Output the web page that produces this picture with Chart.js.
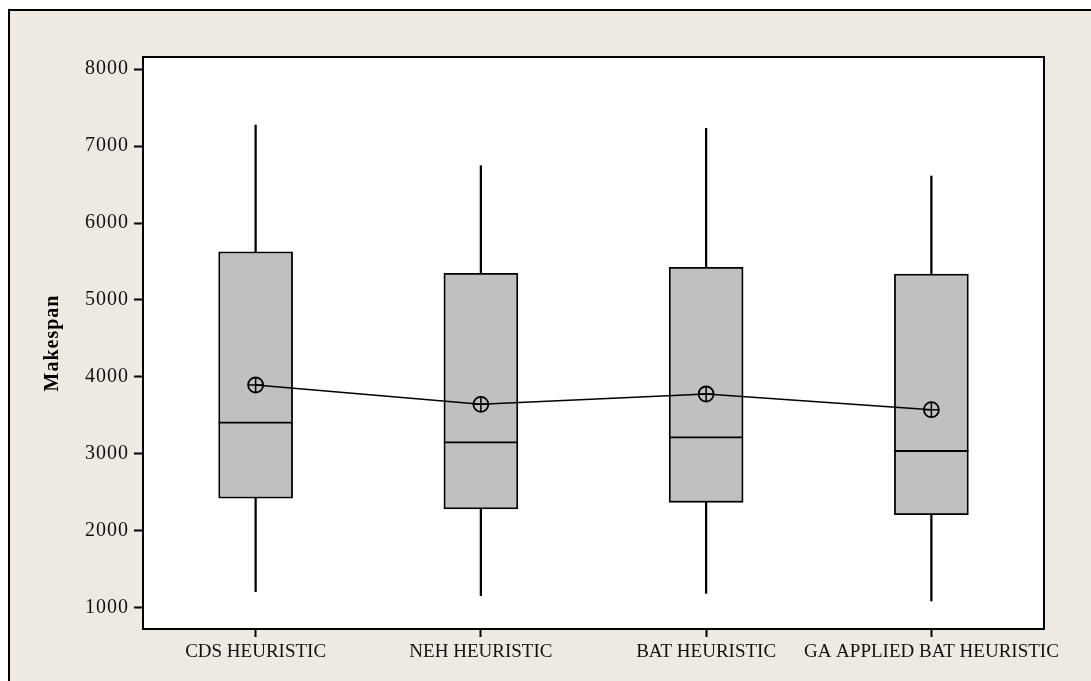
<!DOCTYPE html>
<html>
<head>
<meta charset="utf-8">
<script src="https://cdn.jsdelivr.net/npm/chart.js@4/dist/chart.umd.min.js"></script>
<style>
  html, body { margin: 0; padding: 0; background: #ffffff; overflow: hidden; }
  #frame { position: absolute; left: 8px; top: 9px; width: 1100px; height: 700px;
           background: #EEEAE1; border: 2px solid #000; box-sizing: border-box; }
  #c { position: absolute; left: 0; top: 0; }
</style>
</head>
<body>
<div id="frame"></div>
<canvas id="c" width="1091" height="681"></canvas>
<script>
// ---- data ----
const categories = ['CDS HEURISTIC', 'NEH HEURISTIC', 'BAT HEURISTIC', 'GA APPLIED BAT HEURISTIC'];
const whiskerLow  = [1212, 1160, 1190, 1091];
const q1Values    = [2425, 2286, 2372, 2212];
const medians     = [3407, 3152, 3217, 3039];
const q3Values    = [5627, 5346, 5424, 5338];
const whiskerHigh = [7273, 6744, 7230, 6610];
const means       = [3896, 3645, 3779, 3575];
const yTickValues = [1000, 2000, 3000, 4000, 5000, 6000, 7000, 8000];
const yAxisTitle  = 'Makespan';

Chart.defaults.font.family = "'Liberation Serif', 'Times New Roman', serif";
Chart.defaults.color = '#111';

const plotFrame = {
  id: 'plotFrame',
  beforeDraw(chart) {
    const { ctx, chartArea: a } = chart;
    ctx.save();
    ctx.fillStyle = '#ffffff';
    ctx.fillRect(a.left, a.top, a.right - a.left, a.bottom - a.top);
    ctx.restore();
  },
  afterDatasetsDraw(chart) {
    const { ctx, chartArea: a } = chart;
    ctx.save();
    ctx.strokeStyle = '#000';
    ctx.lineWidth = 2;
    ctx.strokeRect(a.left, a.top, a.right - a.left, a.bottom - a.top);
    ctx.restore();
  }
};

const chart = new Chart(document.getElementById('c'), {
  type: 'bar',
  data: {
    labels: categories,
    datasets: [
      {
        type: 'line', label: 'mean', data: means, order: 1,
        borderColor: '#000', borderWidth: 1.5, tension: 0,
        pointStyle: 'circle', pointRadius: 7.5, pointHoverRadius: 7.5,
        pointBackgroundColor: 'rgba(0,0,0,0)', pointBorderColor: '#000', pointBorderWidth: 1.8
      },
      {
        type: 'line', label: 'meanCross', data: means, order: 0, showLine: false,
        pointStyle: 'cross', pointRadius: 7.5, pointHoverRadius: 7.5,
        pointBorderColor: '#000', pointBorderWidth: 1.5, borderColor: '#000'
      },
      {
        type: 'line', label: 'median', data: medians, order: 2, showLine: false,
        pointStyle: 'line', pointRadius: 37, pointHoverRadius: 37,
        pointBorderColor: '#000', pointBorderWidth: 1.8, borderColor: '#000'
      },
      {
        label: 'box', order: 5,
        data: categories.map((c, i) => [q1Values[i], q3Values[i]]),
        backgroundColor: '#C0C0C0', borderColor: '#000', borderWidth: 1.8,
        borderSkipped: false, barThickness: 74, grouped: false
      },
      {
        label: 'upper whisker', order: 4,
        data: categories.map((c, i) => [q3Values[i], whiskerHigh[i]]),
        backgroundColor: '#000', borderWidth: 0, barThickness: 1.6, grouped: false
      },
      {
        label: 'lower whisker', order: 4,
        data: categories.map((c, i) => [whiskerLow[i], q1Values[i]]),
        backgroundColor: '#000', borderWidth: 0, barThickness: 1.6, grouped: false
      }
    ]
  },
  options: {
    responsive: false,
    animation: false,
    events: [],
    devicePixelRatio: 1,
    layout: { padding: { top: 57, right: 47, left: 0, bottom: 0 } },
    plugins: { legend: { display: false }, tooltip: { enabled: false } },
    scales: {
      x: {
        offset: true,
        afterFit(s) { s.height = 52; },
        grid: { display: true, offset: false, drawOnChartArea: false, drawTicks: true, tickLength: 8, tickColor: '#000', tickWidth: 2 },
        border: { display: false },
        ticks: { font: { size: 19 }, color: '#111', padding: 4, maxRotation: 0, autoSkip: false }
      },
      y: {
        min: 727, max: 8156,
        afterFit(s) { s.width = 143; },
        afterBuildTicks(s) { s.ticks = yTickValues.map(v => ({ value: v })); },
        grid: { display: true, drawOnChartArea: false, drawTicks: true, tickLength: 9, tickColor: '#000', tickWidth: 2 },
        border: { display: false },
        ticks: { font: { size: 20 }, color: '#111', padding: 5, callback: v => String(v) },
        title: { display: true, text: yAxisTitle, font: { size: 20, weight: 'bold' }, color: '#000', padding: { top: 41, bottom: 0 } }
      }
    }
  },
  plugins: [plotFrame]
});

// wider letter spacing as in the reference's text rendering
function spaced(scale, method, spacing) {
  const orig = scale[method].bind(scale);
  scale[method] = function (...args) {
    const ctx = this.ctx;
    ctx.save();
    ctx.letterSpacing = spacing;
    orig(...args);
    ctx.restore();
  };
}
spaced(chart.scales.y, 'drawLabels', '1px');
spaced(chart.scales.y, 'drawTitle', '1px');
chart.draw();
</script>
</body>
</html>
